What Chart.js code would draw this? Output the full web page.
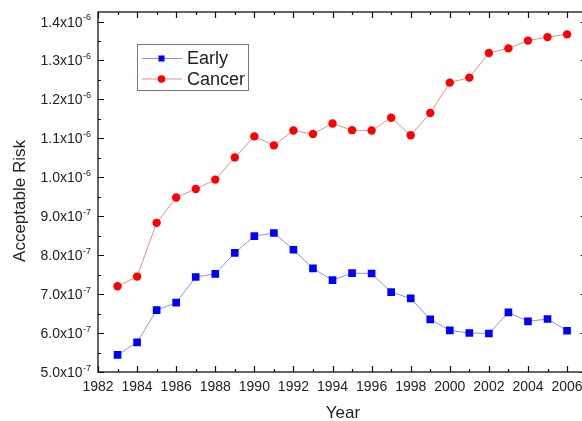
<!DOCTYPE html>
<html>
<head>
<meta charset="utf-8">
<title>Acceptable Risk</title>
<script src="https://cdn.jsdelivr.net/npm/chart.js@4.4.1/dist/chart.umd.min.js"></script>
<style>
    html, body { margin:0; padding:0; background:#fff; overflow:hidden; }
    #wrap { width:592px; height:421px; }
</style>
</head>
<body>
<div id="wrap"><canvas id="chart" width="592" height="421"></canvas></div>
<script>
// ── Data ──────────────────────────────────────────────────────────────
const years = [1983,1984,1985,1986,1987,1988,1989,1990,1991,1992,1993,1994,
               1995,1996,1997,1998,1999,2000,2001,2002,2003,2004,2005,2006];

const earlyRisk = [5.44e-7,5.76e-7,6.59e-7,6.78e-7,7.44e-7,7.52e-7,8.06e-7,8.49e-7,
                   8.57e-7,8.14e-7,7.66e-7,7.36e-7,7.54e-7,7.53e-7,7.05e-7,6.89e-7,
                   6.35e-7,6.07e-7,6.00e-7,5.99e-7,6.53e-7,6.30e-7,6.36e-7,6.06e-7];

const cancerRisk = [7.20e-7,7.45e-7,8.83e-7,9.48e-7,9.70e-7,9.94e-7,1.051e-6,1.105e-6,
                    1.082e-6,1.120e-6,1.111e-6,1.138e-6,1.121e-6,1.120e-6,1.153e-6,1.108e-6,
                    1.165e-6,1.243e-6,1.256e-6,1.319e-6,1.331e-6,1.351e-6,1.360e-6,1.367e-6];

const yTicks     = [5e-7,6e-7,7e-7,8e-7,9e-7,1.0e-6,1.1e-6,1.2e-6,1.3e-6,1.4e-6];
const yMantissa  = ['5.0','6.0','7.0','8.0','9.0','1.0','1.1','1.2','1.3','1.4'];
const yExponent  = ['-7','-7','-7','-7','-7','-6','-6','-6','-6','-6'];

const X_MIN = 1982, X_MAX = 2007;
const Y_MIN = 5e-7, Y_MAX = 1.4244e-6;
const TXT = '#222';

// ── Frame, inward ticks, y labels, titles, legend ────────────────────
const framePlugin = {
    id: 'frame',
    afterDraw(chart) {
        const { ctx, chartArea: a, scales: { x, y } } = chart;
        ctx.save();
        ctx.strokeStyle = '#111';
        ctx.lineWidth = 1.3;
        ctx.strokeRect(a.left, a.top, a.right - a.left, a.bottom - a.top);

        ctx.lineWidth = 1.2;
        ctx.beginPath();
        for (let yr = X_MIN; yr <= X_MAX; yr++) {
            const px = Math.round(x.getPixelForValue(yr)) + 0.5;
            const len = yr % 2 === 0 ? 6 : 3;
            ctx.moveTo(px, a.bottom); ctx.lineTo(px, a.bottom - len);
            ctx.moveTo(px, a.top);    ctx.lineTo(px, a.top + len);
        }
        for (let i = 0; i < yTicks.length; i++) {
            [yTicks[i], yTicks[i] + 5e-8].forEach((v, k) => {
                if (v > Y_MAX) return;
                const py = Math.round(y.getPixelForValue(v)) + 0.5;
                const len = k === 0 ? 6 : 3;
                ctx.moveTo(a.left, py);  ctx.lineTo(a.left + len, py);
                ctx.moveTo(a.right, py); ctx.lineTo(a.right - len, py);
            });
        }
        ctx.stroke();

        // y tick labels with superscript exponent
        ctx.fillStyle = TXT;
        ctx.textBaseline = 'alphabetic';
        yTicks.forEach((v, i) => {
            const py = y.getPixelForValue(v);
            ctx.font = '9px "Liberation Sans", Arial, sans-serif';
            const ew = ctx.measureText(yExponent[i]).width;
            const ex = 91 - ew;
            ctx.textAlign = 'left';
            ctx.fillText(yExponent[i], ex, py - 1.5);
            ctx.font = '14px "Liberation Sans", Arial, sans-serif';
            ctx.textAlign = 'right';
            ctx.fillText(yMantissa[i] + 'x10', ex - 0.5, py + 5);
        });

        // axis titles
        ctx.font = '17px "Liberation Sans", Arial, sans-serif';
        ctx.textAlign = 'center';
        ctx.textBaseline = 'middle';
        ctx.fillText('Year', 343, 413);
        ctx.translate(20, 201);
        ctx.rotate(-Math.PI / 2);
        ctx.fillText('Acceptable Risk', 0, 0);
        ctx.restore();

        // legend
        ctx.save();
        ctx.strokeStyle = '#777';
        ctx.lineWidth = 1;
        ctx.strokeRect(137.5, 44.5, 111, 46);
        ctx.font = '18px "Liberation Sans", Arial, sans-serif';
        ctx.textAlign = 'left';
        ctx.textBaseline = 'middle';
        chart.data.datasets.forEach((ds, i) => {
            const ly = i === 0 ? 58.5 : 79;
            ctx.strokeStyle = ds.borderColor;
            ctx.lineWidth = 1;
            ctx.beginPath(); ctx.moveTo(142, ly); ctx.lineTo(182, ly); ctx.stroke();
            ctx.fillStyle = ds.pointBackgroundColor;
            if (ds.pointStyle === 'rect') ctx.fillRect(158.5, ly - 3, 6, 6);
            else { ctx.beginPath(); ctx.arc(161.5, ly, 3.8, 0, Math.PI * 2); ctx.fill(); }
            ctx.fillStyle = TXT;
            ctx.fillText(ds.label, 187, ly + 1);
        });
        ctx.restore();
    }
};

new Chart(document.getElementById('chart'), {
    type: 'line',
    data: {
        datasets: [
            {
                label: 'Early',
                data: years.map((yr, i) => ({ x: yr, y: earlyRisk[i] })),
                borderColor: '#8f8fef',
                borderWidth: 1,
                pointStyle: 'rect',
                pointRadius: 5.4,
                pointBackgroundColor: '#0000ff',
                pointBorderColor: '#0000ff',
                pointBorderWidth: 0,
                tension: 0,
            },
            {
                label: 'Cancer',
                data: years.map((yr, i) => ({ x: yr, y: cancerRisk[i] })),
                borderColor: '#f08a8a',
                borderWidth: 1,
                pointStyle: 'circle',
                pointRadius: 4.2,
                pointBackgroundColor: '#ff0000',
                pointBorderColor: '#ff0000',
                pointBorderWidth: 0,
                tension: 0,
            }
        ]
    },
    options: {
        responsive: false,
        animation: false,
        devicePixelRatio: 1,
        layout: { padding: { top: 12, right: 3, left: 0, bottom: 0 } },
        plugins: { legend: { display: false }, tooltip: { enabled: false } },
        scales: {
            x: {
                type: 'linear', min: X_MIN, max: X_MAX,
                afterFit(s) { s.height = 49; },
                grid: { display: false, drawTicks: false },
                border: { display: false },
                ticks: {
                    stepSize: 2, includeBounds: false, padding: 7,
                    color: TXT, font: { family: '"Liberation Sans", Arial, sans-serif', size: 14 },
                    callback: v => (v % 2 === 0 && v <= 2006 ? String(v) : ''),
                    maxRotation: 0, autoSkip: false,
                }
            },
            y: {
                type: 'linear', min: Y_MIN, max: Y_MAX,
                afterFit(s) { s.width = 98; },
                grid: { display: false, drawTicks: false },
                border: { display: false },
                ticks: { display: false }
            }
        }
    },
    plugins: [framePlugin]
});
</script>
</body>
</html>
